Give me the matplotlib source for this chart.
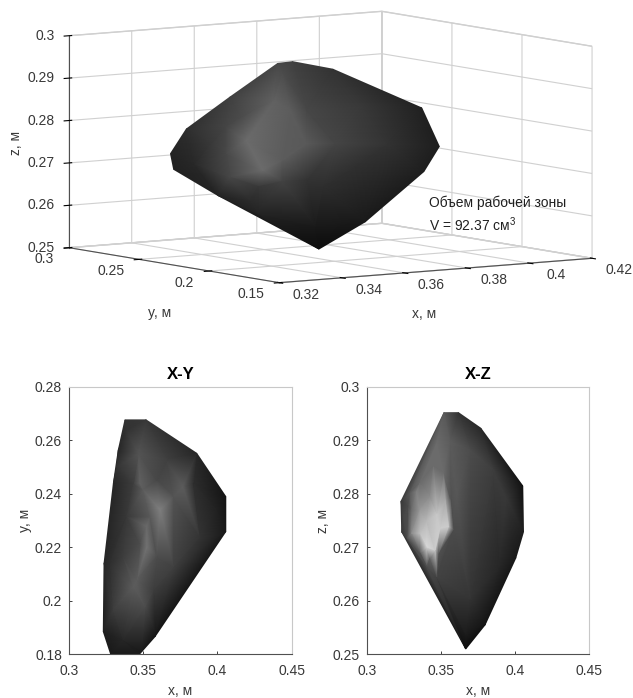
"""Рабочая зона: 3D вид и проекции X-Y, X-Z."""
import matplotlib
matplotlib.use('Agg')
import matplotlib.pyplot as plt
import numpy as np
from matplotlib.tri import Triangulation
from mpl_toolkits.mplot3d import proj3d

plt.rcParams['font.family'] = ['Liberation Sans', 'DejaVu Sans']
plt.rcParams['mathtext.default'] = 'regular'
plt.rcParams['grid.color'] = '#d0d0d0'
plt.rcParams['grid.linewidth'] = 0.8

# видимая поверхность в 3D: контур, затем внутренние точки
x3d = [.3530, .3563, .3652, .3849, .3888, .3854, .3724, .3621, .3487, .3397, .3299, .3292, .3327, .3424,
       .3522, .3460, .3496, .3540, .3657, .3594, .3719, .3773, .3379, .3344, .3424, .3469, .3630, .3764,
       .3612, .3540, .3415,
       .3487, .3594, .3701, .3594, .3558, .3540, .3415, .3451]
y3d = [.2248, .2215, .2127, .1932, .1894, .1928, .2056, .2157, .2290, .2378, .2475, .2482, .2447, .2352,
       .2255, .2316, .2281, .2237, .2122, .2184, .2060, .2007, .2396, .2431, .2352, .2308, .2149, .2016,
       .2166, .2237, .2361,
       .2290, .2184, .2078, .2184, .2219, .2237, .2361, .2325]
z3d = [.2957, .2961, .2943, .2851, .2760, .2701, .2583, .2519, .2603, .2646, .2708, .2745, .2803, .2878,
       .2870, .2776, .2705, .2678, .2768, .2847, .2855, .2768, .2768, .2721, .2689, .2634, .2666, .2697,
       .2572, .2933, .2807,
       .2666, .2682, .2713, .2768, .2847, .2729, .2745, .2831]
g3d = [.28, .25, .20, .13, .12, .12, .10, .05, .14, .14, .13, .14, .18, .25,
       .38, .42, .42, .26, .27, .28, .22, .20, .22, .16, .28, .17, .18, .16,
       .10, .30, .27,
       .22, .20, .19, .35, .36, .36, .28, .30]

# проекция X-Y
x_xy = [.3377, .3519, .3860, .4056, .4056, .3579, .3490, .3474, .3281, .3231, .3236, .3299, .3332,
        .3523, .3613, .3523, .3770, .3467, .3501, .3456, .3299, .3512, .3389, .3321, .3389, .3658,
        .3838, .3995, .3883, .3703, .3568, .3366, .3276,
        .3591, .3703, .3478, .3433, .3546, .3366, .3591, .3434, .3478]
y_xy = [.2677, .2677, .2552, .2390, .2259, .1866, .1810, .1800, .1800, .1885, .2140, .2440, .2564,
        .2278, .2340, .2203, .2427, .2552, .2415, .2078, .1966, .1978, .2315, .2502, .2637, .2527,
        .2440, .2340, .2240, .2128, .2041, .1854, .2140,
        .2452, .2390, .2440, .2440, .2315, .2165, .2165, .2053, .2215]
g_xy = [.20, .22, .15, .08, .10, .08, .10, .10, .10, .12, .15, .15, .15,
        .42, .50, .45, .36, .33, .36, .36, .24, .30, .22, .20, .20, .25,
        .18, .13, .20, .25, .24, .15, .18,
        .28, .33, .38, .24, .35, .24, .30, .36, .30]

# проекция X-Z
x_xz = [.3521, .3618, .3768, .4051, .4056, .4004, .3797, .3667, .3236, .3231,
        .3550, .3472, .3337, .3281, .3359, .3404, .3427, .3494, .3303,
        .3472, .3517, .3584, .3606, .3696, .3853, .3943, .3898, .3696, .3674, .3472,
        .3528, .3566, .3460, .3483, .3274, .3359, .3404, .3247, .3359, .3427, .3359, .3449, .3292,
        .3559, .3303, .3404]
z_xz = [.2952, .2952, .2923, .2815, .2729, .2680, .2555, .2510, .2729, .2786,
        .2739, .2764, .2804, .2776, .2726, .2701, .2680, .2736, .2726,
        .2895, .2839, .2733, .2795, .2882, .2845, .2789, .2664, .2602, .2533, .2645,
        .2789, .2789, .2695, .2689, .2717, .2689, .2664, .2757, .2770, .2795, .2820, .2851, .2801,
        .2900, .2770, .2750]
g_xz = [.35, .20, .16, .07, .12, .10, .08, .05, .22, .22,
        .80, .78, .50, .30, .75, .85, .40, .80, .55,
        .42, .42, .30, .34, .30, .24, .22, .15, .20, .10, .26,
        .65, .32, .80, .32, .30, .32, .30, .28, .60, .55, .42, .42, .35,
        .36, .42, .72]

x_ticks3d = [.32, .34, .36, .38, .4, .42]
y_ticks3d = [.15, .2, .25, .3]
z_ticks3d = [.25, .26, .27, .28, .29, .3]
x_ticks2d = [.3, .35, .4, .45]
y_ticks_xy = [.18, .2, .22, .24, .26, .28]
z_ticks_xz = [.25, .26, .27, .28, .29, .3]

TEXT_COLOR = '#383838'


def fmt(vals):
    return ['%g' % v for v in vals]


def style_2d(ax, xticks, yticks, title, ylabel):
    ax.set_xlim(xticks[0], xticks[-1])
    ax.set_ylim(yticks[0], yticks[-1])
    ax.set_xticks(xticks, fmt(xticks))
    ax.set_yticks(yticks, fmt(yticks))
    ax.grid(True)
    ax.set_axisbelow(True)
    ax.tick_params(direction='in', length=2.5, width=0.7, color='#404040',
                   labelsize=10, labelcolor=TEXT_COLOR)
    ax.tick_params(axis='x', pad=7)
    ax.tick_params(axis='y', pad=5)
    for side in ('top', 'right'):
        ax.spines[side].set_color('#c8c8c8')
    for side in ('left', 'bottom'):
        ax.spines[side].set_color('#505050')
    ax.set_title(title, fontsize=12, fontweight='bold', pad=6)
    ax.set_xlabel('x, м', fontsize=10, color=TEXT_COLOR, labelpad=4)
    ax.set_ylabel(ylabel, fontsize=10, color=TEXT_COLOR, labelpad=2)


W, H = 633, 698
fig = plt.figure(figsize=(W / 100, H / 100), dpi=100)

# 3D оси: ортографическая проекция как в исходном виде
ax = fig.add_axes([45.3 / W, 265.7 / H, 555.6 / W, 555.6 / H], projection='3d', proj_type='ortho')
ax.view_init(elev=6.54, azim=-124.4)
ax.set_box_aspect((379, 372, 213.4))
ax.set_xlim(.32, .42)
ax.set_ylim(.15, .3)
ax.set_zlim(.25, .3)
# подписи делений ставятся ниже, со смещением как в MATLAB
ax.set_xticks(x_ticks3d, [''] * len(x_ticks3d))
ax.set_yticks(y_ticks3d, [''] * len(y_ticks3d))
ax.set_zticks(z_ticks3d, [''] * len(z_ticks3d))
for axis in (ax.xaxis, ax.yaxis, ax.zaxis):
    axis.set_pane_color((1, 1, 1, 1))
    axis.pane.set_edgecolor('#d0d0d0')
    axis.line.set_color('#505050')
    axis.line.set_linewidth(0.8)
ax.zaxis.set_ticks_position('upper')

fig.canvas.draw()


def to_pixels(xs, ys, zs):
    px, py, _ = proj3d.proj_transform(np.array(xs), np.array(ys), np.array(zs), ax.get_proj())
    return ax.transData.transform(np.column_stack([px, py]))


# гладкая заливка: точки переводим в пиксели и красим поверх 3D осей
over = fig.add_axes([0, 0, 1, 1], facecolor='none')
over.set_xlim(0, W)
over.set_ylim(0, H)
over.axis('off')
disp = to_pixels(x3d, y3d, z3d)
over.tripcolor(Triangulation(disp[:, 0], disp[:, 1]), g3d, shading='gouraud',
               cmap='gray', vmin=0, vmax=1)


def tick_labels(vals, xs, ys, zs, dx, dy, ha):
    pts = to_pixels(xs, ys, zs)
    for txt, (px, py) in zip(fmt(vals), pts):
        over.text(px + dx, py + dy, txt, fontsize=10, color=TEXT_COLOR, ha=ha, va='center')


n = len(x_ticks3d)
tick_labels(x_ticks3d, x_ticks3d, [.15] * n, [.25] * n, 27, -12, 'center')
n = len(y_ticks3d)
tick_labels(y_ticks3d, [.32] * n, y_ticks3d, [.25] * n, -15, -11.5, 'right')
n = len(z_ticks3d)
tick_labels(z_ticks3d, [.32] * n, [.3] * n, z_ticks3d, -14.5, 0, 'right')

over.text(424, H - 314, 'x, м', fontsize=10, color=TEXT_COLOR, ha='center', va='center')
over.text(160, H - 313, 'y, м', fontsize=10, color=TEXT_COLOR, ha='center', va='center')
over.text(16, H - 143, 'z, м', fontsize=10, color=TEXT_COLOR, ha='center', va='center', rotation=90)
over.text(429, H - 202.5, 'Объем рабочей зоны', fontsize=10, color='#202020', va='center')
over.text(429, H - 225, 'V = 92.37 см$^3$', fontsize=10, color='#202020', va='center')

ax_xy = fig.add_axes([69 / W, (H - 654.3) / H, 222.7 / W, 267.3 / H])
style_2d(ax_xy, x_ticks2d, y_ticks_xy, 'X-Y', 'y, м')
ax_xy.tripcolor(Triangulation(x_xy, y_xy), g_xy, shading='gouraud', cmap='gray', vmin=0, vmax=1)

ax_xz = fig.add_axes([366.7 / W, (H - 654.3) / H, 222.7 / W, 267.3 / H])
style_2d(ax_xz, x_ticks2d, z_ticks_xz, 'X-Z', 'z, м')
ax_xz.tripcolor(Triangulation(x_xz, z_xz), g_xz, shading='gouraud', cmap='gray', vmin=0, vmax=1)

fig.savefig('out.png', dpi=100)
